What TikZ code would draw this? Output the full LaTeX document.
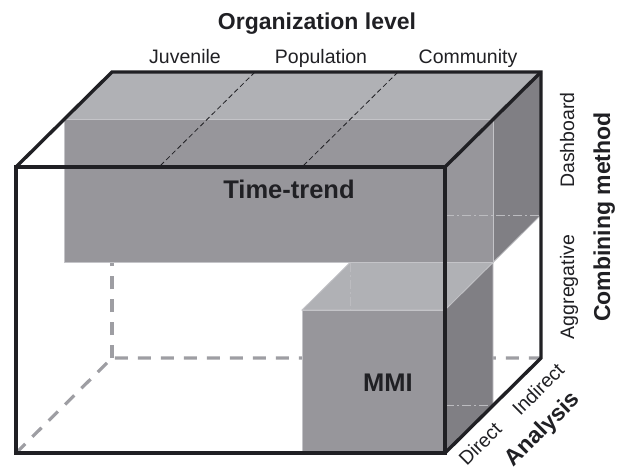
\documentclass[tikz,border=0pt]{standalone}
\usepackage{fontspec}
\setmainfont{Liberation Sans}
\usepackage{tikz}
\usetikzlibrary{calc}

\definecolor{topgray}{RGB}{176,177,181}
\definecolor{frontgray}{RGB}{151,150,155}
\definecolor{sidegray}{RGB}{128,127,132}
\definecolor{hidgray}{RGB}{158,158,163}
\definecolor{ghostgray}{RGB}{188,188,192}
\definecolor{rimgray}{RGB}{196,196,200}
\definecolor{inkgray}{RGB}{32,32,36}

\begin{document}
\begin{tikzpicture}[x={(143pt,0pt)},y={(0pt,143pt)},z={(48pt,47.5pt)},
    outedge/.style={line width=3.4pt,draw=inkgray},
    hidedge/.style={line width=3.2pt,draw=hidgray,dash pattern=on 13pt off 10pt},
    ghostline/.style={line width=0.9pt,draw=ghostgray,dash pattern=on 9pt off 3pt on 2pt off 3pt},
    cubeface/.style={draw=rimgray,line width=0.8pt},
    axlab/.style={font=\fontsize{19.5}{22}\selectfont,text=inkgray},
    axtitle/.style={font=\fontsize{23}{27}\selectfont\bfseries,text=inkgray},
    boxtitle/.style={font=\fontsize{25.5}{30}\selectfont\bfseries,text=inkgray}]
  \useasboundingbox (-16pt,-13pt) rectangle (607pt,453pt);
  \coordinate (fr) at (3,0,0);
  \coordinate (tb) at (3,1,2);
  \coordinate (mb) at (3,0,1);
  % hidden edges of the cube
  \draw[hidedge] (0,0,0) -- (0,0,2) -- (3,0,2);
  \draw[hidedge] (0,0,2) -- (0,1,2);
  % Time-trend block (dashboard, indirect)
  \path[cubeface,fill=topgray] (0,2,1) -- (3,2,1) -- (3,2,2) -- (0,2,2) -- cycle;
  \path[cubeface,fill=sidegray] (3,1,1) -- (3,1,2) -- (3,2,2) -- (3,2,1) -- cycle;
  \path[cubeface,fill=frontgray] (0,1,1) -- (3,1,1) -- (3,2,1) -- (0,2,1) -- cycle;
  \draw[ghostline] (fr |- tb) -- (tb);
  % MMI block (aggregative, direct)
  \path[cubeface,fill=topgray] (2,1,0) -- (3,1,0) -- (3,1,1) -- (2,1,1) -- cycle;
  \path[cubeface,fill=sidegray] (3,0,0) -- (3,0,1) -- (3,1,1) -- (3,1,0) -- cycle;
  \draw[ghostline] (2,1,1) -- (2,0,1);
  \draw[ghostline] (fr |- mb) -- (mb);
  \path[cubeface,fill=frontgray] (2,0,0) -- (3,0,0) -- (3,1,0) -- (2,1,0) -- cycle;
  \foreach \i in {1,2}{
    \draw[line width=0.8pt,inkgray,dash pattern=on 5pt off 3pt] (\i,2,2) -- (\i,2,0);
  }
  % visible edges
  \draw[outedge] (0,0,0) -- (3,0,0) -- (3,2,0) -- (0,2,0) -- cycle;
  \draw[outedge] (0,2,0) -- (0,2,2) -- (3,2,2) -- (3,0,2) -- (3,0,0);
  \draw[outedge] (3,2,0) -- (3,2,2);
  % labels
  \node[axtitle,anchor=base] (orglevel) at (301pt,423pt) {Organization level};
  \foreach \i/\xc/\lab in {1/169/Juvenile,2/305/Population,3/452/Community}{
    \node[axlab,anchor=base] (col\i) at (\xc pt,389pt) {\lab};
  }
  \node[axlab,anchor=base,rotate=90] (dash) at (558pt,313pt) {Dashboard};
  \node[axlab,anchor=base,rotate=90] (aggr) at (558pt,166pt) {Aggregative};
  \node[axtitle,anchor=base,rotate=90] (combmeth) at (594pt,236pt) {Combining method};
  \node[axlab,rotate=45] (direct) at (464pt,9pt) {Direct};
  \node[axlab,rotate=45] (indirect) at (522pt,64pt) {Indirect};
  \node[axtitle,rotate=45] (analysis) at (527pt,23pt) {Analysis};
  \node[boxtitle,anchor=base] (timetrend) at (273pt,254pt) {Time-trend};
  \node[boxtitle,anchor=base] (mmi) at (372pt,62pt) {MMI};
\end{tikzpicture}
\end{document}
